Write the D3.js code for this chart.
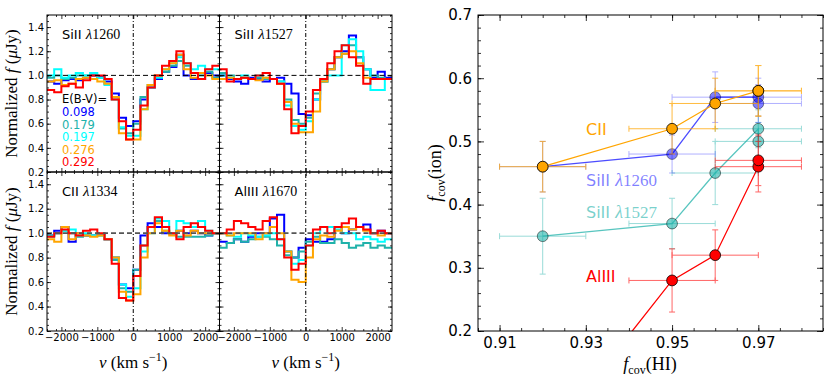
<!DOCTYPE html>
<html>
<head>
<meta charset="utf-8">
<script src="https://d3js.org/d3.v7.min.js"></script>
<style>
    body, html { margin: 0; padding: 0; background: #fff; }
    svg { display: block; }
</style>
</head>
<body>
<svg id="chart" width="830" height="382"></svg>
<script>
// ---- left panels: normalized spectra, 200 km/s bins ----
const velEdges = [-2400,-2200,-2000,-1800,-1600,-1400,-1200,-1000,-800,-600,-400,-200,0,
                  200,400,600,800,1000,1200,1400,1600,1800,2000,2200,2400];
const ebvLabels = ["0.098", "0.179", "0.197", "0.276", "0.292"];
const ebvColors = ["#0000ff", "#20b2aa", "#00ffff", "#ffa500", "#ff0000"];

// rows: blue, teal, cyan, orange, red
const siII1260Flux = [
    [0.95,0.93,0.96,0.97,0.96,0.98,1.00,0.99,0.95,0.85,0.65,0.58,0.62,0.80,0.90,0.97,1.03,1.07,1.17,1.00,0.97,0.97,1.02,1.00],
    [0.98,1.00,0.97,0.98,1.00,1.00,1.00,0.98,0.93,0.80,0.56,0.52,0.60,0.82,0.92,1.00,1.03,1.08,1.12,1.08,1.02,1.00,1.03,0.98],
    [1.00,1.05,0.98,1.00,1.02,1.00,1.02,0.98,0.92,0.82,0.57,0.50,0.50,0.72,0.90,0.98,1.05,1.10,1.15,1.10,1.05,1.08,1.05,1.05],
    [0.95,0.96,0.92,0.93,0.97,0.98,0.97,0.95,0.93,0.82,0.52,0.47,0.47,0.72,0.92,1.00,1.05,1.10,1.17,1.05,0.98,1.02,1.00,0.97],
    [0.88,0.86,0.91,0.93,0.90,0.96,1.00,1.00,0.97,0.80,0.62,0.47,0.55,0.75,0.90,1.00,1.08,1.12,1.20,1.10,1.02,0.97,1.05,1.08]
];
const siII1527Flux = [
    [1.00,0.97,0.95,0.93,0.98,0.97,0.95,0.97,0.98,0.93,0.85,0.68,0.67,0.80,0.95,1.05,1.15,1.20,1.33,1.15,1.05,0.98,1.03,0.98],
    [1.02,1.00,0.97,0.98,0.97,0.98,0.97,0.97,0.95,0.80,0.63,0.60,0.65,0.85,0.95,1.05,1.15,1.18,1.25,1.15,1.05,1.00,0.98,0.97],
    [1.00,0.98,0.97,1.00,0.97,1.00,0.98,0.97,0.95,0.75,0.58,0.55,0.62,0.80,0.95,1.00,1.00,1.25,1.30,1.20,1.05,0.88,0.88,0.97],
    [0.97,0.98,0.97,0.98,0.97,0.96,0.98,0.97,0.93,0.78,0.60,0.53,0.53,0.70,0.95,1.05,1.15,1.18,1.20,1.10,0.98,0.97,0.97,0.97],
    [1.05,0.95,0.97,0.98,0.97,1.00,1.02,0.97,0.93,0.72,0.52,0.58,0.70,0.88,0.97,1.10,1.20,1.25,1.15,1.08,0.93,0.97,0.97,0.97]
];
const cII1334Flux = [
    [0.98,1.02,1.05,0.93,1.00,0.98,0.98,0.99,0.95,0.80,0.58,0.55,0.70,0.98,1.08,1.05,1.00,1.00,1.02,1.00,1.02,1.00,0.98,1.00],
    [0.98,1.00,1.02,1.00,0.97,0.98,0.98,0.98,0.95,0.78,0.55,0.52,0.70,0.90,1.05,1.10,1.02,1.00,0.97,0.97,0.97,0.97,0.98,1.00],
    [0.97,1.00,1.02,1.03,0.98,1.00,0.98,0.98,0.95,0.80,0.58,0.48,0.55,0.85,1.00,1.12,1.10,1.00,1.10,1.08,1.05,1.10,1.02,1.00],
    [0.95,0.93,1.05,0.95,1.00,0.98,0.97,0.98,0.95,0.80,0.52,0.45,0.50,0.80,1.00,1.08,1.02,0.98,1.02,0.98,1.02,1.00,1.00,1.00],
    [0.97,1.00,1.03,1.00,0.98,1.02,1.03,1.00,0.95,0.75,0.47,0.45,0.65,0.90,1.05,1.13,1.05,1.00,0.95,1.05,1.08,1.05,1.02,1.00]
];
const alIII1670Flux = [
    [0.93,0.92,0.95,0.93,0.97,1.00,1.00,1.12,1.15,0.85,0.80,0.88,0.95,0.93,0.93,0.95,1.05,1.00,1.03,1.05,1.07,1.00,1.02,1.00],
    [0.88,0.92,0.95,0.93,0.95,0.97,0.97,0.95,0.90,0.82,0.80,0.85,0.93,0.97,0.92,0.92,0.95,0.92,0.88,0.90,0.92,0.88,0.90,0.88],
    [1.00,0.98,0.97,1.00,0.98,0.97,0.98,1.00,0.95,0.85,0.75,0.78,0.90,1.00,1.05,1.05,1.03,1.00,1.00,0.95,0.97,0.95,0.93,0.95],
    [1.00,0.98,1.00,1.00,1.00,0.95,1.00,1.05,1.00,0.85,0.62,0.60,0.80,0.95,0.98,0.97,1.02,1.05,1.03,1.05,1.02,1.00,0.98,1.00],
    [1.00,1.03,1.10,1.08,1.05,1.03,1.10,1.13,0.95,0.80,0.70,0.75,0.90,1.03,1.05,1.00,1.05,1.08,1.12,1.05,1.03,1.00,1.02,1.00]
];
const panelIons = ["SiII", "SiII", "CII", "AlIII"];
const panelWaves = ["1260", "1527", "1334", "1670"];
const panelFlux = [siII1260Flux, siII1527Flux, cII1334Flux, alIII1670Flux];
const fluxTicks = [0.2, 0.4, 0.6, 0.8, 1.0, 1.2, 1.4];
const velTicks = [-2000, -1000, 0, 1000, 2000];

// ---- right panel: covering fractions ----
const fcovHI = [0.92, 0.95, 0.96, 0.97, 0.97];
const fcovHIErr = [0.01, 0.01, 0.01, 0.01, 0.01];
const siII1527Fcov = [0.35, 0.37, 0.45, 0.52, 0.50];
const siII1527Err = [0.06, 0.04, 0.05, 0.03, 0.03];
const siII1260Fcov = [0.46, 0.48, 0.57, 0.57, 0.56];
const siII1260Err = [0.04, 0.03, 0.04, 0.03, 0.03];
const cIIFcov = [0.46, 0.52, 0.56, 0.58, 0.58];
const cIIErr = [0.04, 0.04, 0.04, 0.04, 0.04];
const alIIIFcov = [0.02, 0.28, 0.32, 0.46, 0.47];
const alIIIErr = [0.05, 0.05, 0.04, 0.04, 0.04];
const fcovXTicks = [0.91, 0.93, 0.95, 0.97];
const fcovYTicks = [0.2, 0.3, 0.4, 0.5, 0.6, 0.7];

const svg = d3.select("#chart");
const sans = "'DejaVu Sans', sans-serif";
const serif = "'Liberation Serif', 'DejaVu Serif', serif";

// inward ticks on all four sides of a box
function boxTicks(g, x, y, o) {
    const [yb, yt] = y.range();
    const [xl, xr] = x.range();
    const sides = [
        [d3.axisBottom, x, `translate(0,${yb})`, o.xMajor, o.xMinor, o.xLabels],
        [d3.axisTop, x, `translate(0,${yt})`, o.xMajor, o.xMinor, null],
        [d3.axisLeft, y, `translate(${xl},0)`, o.yMajor, o.yMinor, o.yLabels],
        [d3.axisRight, y, `translate(${xr},0)`, o.yMajor, o.yMinor, null]
    ];
    sides.forEach(([mk, sc, tr, major, minor, fmt]) => {
        g.append("g").attr("transform", tr)
            .call(mk(sc).tickValues(minor).tickSize(-o.minorLen).tickFormat(""))
            .call(a => a.select(".domain").remove());
        g.append("g").attr("transform", tr)
            .call(mk(sc).tickValues(major).tickSize(-o.majorLen).tickPadding(o.pad)
                .tickFormat(fmt ? fmt : ""))
            .call(a => a.select(".domain").remove())
            .call(a => a.selectAll("text").attr("font-family", sans)
                .attr("font-size", o.fontSize).attr("fill", "#000"));
    });
    g.selectAll(".tick line").attr("stroke", "#000").attr("stroke-width", 0.8);
    g.append("rect").attr("x", xl).attr("y", yt).attr("width", xr - xl).attr("height", yb - yt)
        .attr("fill", "none").attr("stroke", "#000").attr("stroke-width", 1);
}

// ---- spectra panels ----
const colX = [47, 219.5, 392];
const rowY = [15, 172, 331];
const fluxMinor = d3.range(0.2, 1.501, 0.05).map(v => +v.toFixed(2));
const velMinor = d3.range(-2400, 2401, 250);

panelFlux.forEach((spec, p) => {
    const col = p % 2, row = Math.floor(p / 2);
    const x = d3.scaleLinear().domain([-2400, 2400]).range([colX[col], colX[col + 1]]);
    const y = d3.scaleLinear().domain([0.2, 1.5]).range([rowY[row + 1], rowY[row]]);
    const g = svg.append("g");

    const line = d3.line().curve(d3.curveStepAfter).x(d => x(d[0])).y(d => y(d[1]));
    spec.forEach((vals, s) => {
        const pts = velEdges.map((v, i) => [v, vals[Math.min(i, vals.length - 1)]]);
        g.append("path").attr("d", line(pts)).attr("fill", "none")
            .attr("stroke", ebvColors[s]).attr("stroke-width", 2)
            .attr("stroke-linejoin", "miter");
    });

    // bottom-row continuum lines read heavier/greyer in the original
    g.append("line").attr("x1", x.range()[0]).attr("x2", x.range()[1])
        .attr("y1", y(1)).attr("y2", y(1))
        .attr("stroke", row === 1 ? "#555" : "#000")
        .attr("stroke-width", row === 1 ? 1.6 : 1)
        .attr("stroke-dasharray", "5,3");
    g.append("line").attr("x1", x(0)).attr("x2", x(0))
        .attr("y1", y.range()[0]).attr("y2", y.range()[1])
        .attr("stroke", "#000").attr("stroke-width", 1).attr("stroke-dasharray", "4,2,1,2");

    boxTicks(g, x, y, {
        xMajor: velTicks, xMinor: velMinor,
        yMajor: fluxTicks, yMinor: fluxMinor,
        xLabels: row === 1 ? d3.format("") : null,
        yLabels: col === 0 ? d3.format(".1f") : null,
        majorLen: 4, minorLen: 2, pad: 3, fontSize: 10
    });

    const t = g.append("text").attr("x", x.range()[0] + 15).attr("y", y.range()[1] + 24)
        .attr("font-size", 13).attr("font-family", sans);
    t.append("tspan").text(panelIons[p] + " ");
    t.append("tspan").attr("font-family", serif).attr("font-style", "italic").attr("font-size", 15).text("λ");
    t.append("tspan").attr("font-family", serif).attr("font-size", 14).text(panelWaves[p]);

    if (p === 0) {
        g.append("text").attr("x", x.range()[0] + 15).attr("y", 103)
            .attr("font-size", 11.5).attr("font-family", sans).text("E(B-V)=");
        ebvLabels.forEach((lab, s) => {
            g.append("text").attr("x", x.range()[0] + 15).attr("y", 116 + s * 12.6)
                .attr("font-size", 11.5).attr("font-family", sans)
                .attr("fill", ebvColors[s]).text(lab);
        });
    }

    if (col === 0) {
        const yl = g.append("text")
            .attr("transform", `translate(17,${(y.range()[0] + y.range()[1]) / 2}) rotate(-90)`)
            .attr("text-anchor", "middle").attr("font-family", serif).attr("font-size", 17);
        yl.append("tspan").text("Normalized ");
        yl.append("tspan").attr("font-style", "italic").text("f");
        yl.append("tspan").text(" (");
        yl.append("tspan").attr("font-style", "italic").text("μ");
        yl.append("tspan").text("Jy)");
    }
    if (row === 1) {
        const xl = g.append("text").attr("x", x(0)).attr("y", 368)
            .attr("text-anchor", "middle").attr("font-family", serif).attr("font-size", 17);
        xl.append("tspan").attr("font-style", "italic").text("v");
        xl.append("tspan").text(" (km s");
        xl.append("tspan").attr("font-size", 12).attr("dy", -7).text("−1");
        xl.append("tspan").attr("dy", 7).text(")");
    }
});

// ---- covering fraction panel ----
const fx = d3.scaleLinear().domain([0.905, 0.985]).range([478, 823]);
const fy = d3.scaleLinear().domain([0.2, 0.7]).range([331, 15]);
const rg = svg.append("g");
rg.append("clipPath").attr("id", "fclip").append("rect")
    .attr("x", 478).attr("y", 15).attr("width", 345).attr("height", 316);
const plot = rg.append("g").attr("clip-path", "url(#fclip)");

const fseries = [
    { vals: siII1527Fcov, err: siII1527Err, color: "#20b2aa", mAlpha: 0.6, eAlpha: 0.45, lAlpha: 0.75 },
    { vals: siII1260Fcov, err: siII1260Err, color: "#0000ff", mAlpha: 0.5, eAlpha: 0.3, lAlpha: 0.7 },
    { vals: cIIFcov, err: cIIErr, color: "#ffa500", mAlpha: 1, eAlpha: 0.75, lAlpha: 1 },
    { vals: alIIIFcov, err: alIIIErr, color: "#ff0000", mAlpha: 1, eAlpha: 0.6, lAlpha: 1 }
];
const cap = 3;
fseries.forEach(s => {
    const pts = fcovHI.map((h, i) => ({ x: h, xe: fcovHIErr[i], y: s.vals[i], ye: s.err[i] }));
    const eg = plot.append("g").attr("stroke", s.color).attr("stroke-width", 1).attr("opacity", s.eAlpha);
    pts.forEach(d => {
        const x0 = fx(d.x - d.xe), x1 = fx(d.x + d.xe), y0 = fy(d.y - d.ye), y1 = fy(d.y + d.ye);
        const cx = fx(d.x), cy = fy(d.y);
        eg.append("line").attr("x1", x0).attr("x2", x1).attr("y1", cy).attr("y2", cy);
        eg.append("line").attr("x1", cx).attr("x2", cx).attr("y1", y0).attr("y2", y1);
        eg.append("line").attr("x1", x0).attr("x2", x0).attr("y1", cy - cap).attr("y2", cy + cap);
        eg.append("line").attr("x1", x1).attr("x2", x1).attr("y1", cy - cap).attr("y2", cy + cap);
        eg.append("line").attr("x1", cx - cap).attr("x2", cx + cap).attr("y1", y0).attr("y2", y0);
        eg.append("line").attr("x1", cx - cap).attr("x2", cx + cap).attr("y1", y1).attr("y2", y1);
    });
    plot.append("path").attr("d", d3.line().x(d => fx(d.x)).y(d => fy(d.y))(pts))
        .attr("fill", "none").attr("stroke", s.color).attr("stroke-width", 1.3).attr("opacity", s.lAlpha);
    plot.selectAll(null).data(pts).enter().append("circle")
        .attr("cx", d => fx(d.x)).attr("cy", d => fy(d.y)).attr("r", 5.4)
        .attr("fill", s.color).attr("fill-opacity", s.mAlpha)
        .attr("stroke", "#000").attr("stroke-width", 0.8).attr("stroke-opacity", Math.max(0.5, s.mAlpha));
});

boxTicks(rg, fx, fy, {
    xMajor: fcovXTicks, xMinor: d3.range(0.905, 0.986, 0.005).map(v => +v.toFixed(3)),
    yMajor: fcovYTicks, yMinor: d3.range(0.2, 0.701, 0.02).map(v => +v.toFixed(2)),
    xLabels: d3.format(".2f"), yLabels: d3.format(".1f"),
    majorLen: 6, minorLen: 3, pad: 6, fontSize: 15
});

const ionLabels = [
    { ion: "CII", wave: null, y: 135, color: "#ffa500" },
    { ion: "SiII ", wave: "1260", y: 186, color: "rgba(0,0,255,0.5)" },
    { ion: "SiII ", wave: "1527", y: 218, color: "rgba(32,178,170,0.6)" },
    { ion: "AlIII", wave: null, y: 282, color: "#ff0000" }
];
ionLabels.forEach(l => {
    const t = rg.append("text").attr("x", 586).attr("y", l.y).attr("fill", l.color)
        .attr("font-family", sans).attr("font-size", 16);
    t.append("tspan").text(l.ion);
    if (l.wave) {
        t.append("tspan").attr("font-family", serif).attr("font-style", "italic").attr("font-size", 18).text("λ");
        t.append("tspan").attr("font-family", serif).attr("font-size", 17).text(l.wave);
    }
});

const fyl = rg.append("text").attr("transform", "translate(441,173) rotate(-90)")
    .attr("text-anchor", "middle").attr("font-family", serif).attr("font-size", 18);
fyl.append("tspan").attr("font-style", "italic").text("f");
fyl.append("tspan").attr("font-size", 12).attr("dy", 4).text("cov");
fyl.append("tspan").attr("dy", -4).text("(ion)");

const fxl = rg.append("text").attr("x", 650).attr("y", 370)
    .attr("text-anchor", "middle").attr("font-family", serif).attr("font-size", 18);
fxl.append("tspan").attr("font-style", "italic").text("f");
fxl.append("tspan").attr("font-size", 12).attr("dy", 4).text("cov");
fxl.append("tspan").attr("dy", -4).text("(HI)");
</script>
</body>
</html>
